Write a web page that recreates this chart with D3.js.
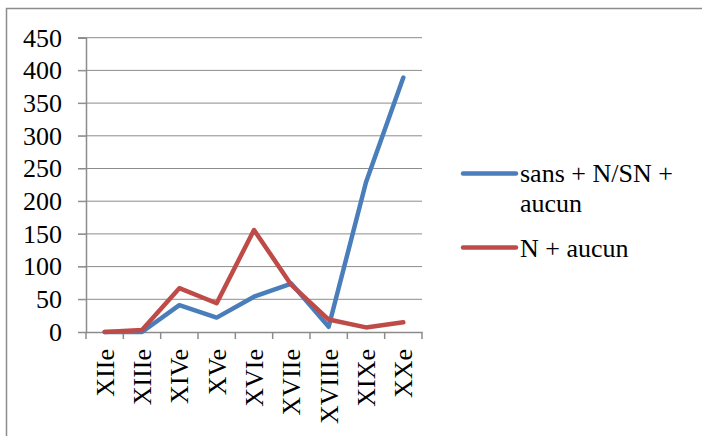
<!DOCTYPE html>
<html><head><meta charset="utf-8">
<script src="https://cdn.jsdelivr.net/npm/d3@7"></script>
<style>body{margin:0;background:#fff}svg{display:block}</style>
</head><body>
<svg id="c" width="702" height="436"></svg>
<script>
const categories = ["XIIe","XIIIe","XIVe","XVe","XVIe","XVIIe","XVIIIe","XIXe","XXe"];
const seriesNames = ["sans + N/SN + aucun", "N + aucun"];
const sansValues = [0, 0, 41, 22, 54, 74, 8, 229, 389];
const nValues = [0, 3, 67, 44, 156, 72, 19, 7, 15];
const yTicks = [0, 50, 100, 150, 200, 250, 300, 350, 400, 450];
const colors = ["#4A7EBB", "#BE4B48"];

const svg = d3.select("#c");
const FF = '"Liberation Serif"';
const L = 86, R = 422, T = 37.7, B = 332;

svg.append("rect").attr("x", 6.5).attr("y", 8.5).attr("width", 900).attr("height", 900)
  .attr("fill", "none").attr("stroke", "#8c8c8c").attr("stroke-width", 1.5);

const x = d3.scaleBand().domain(categories).range([L, R]);
const y = d3.scaleLinear().domain([0, 450]).range([B, T]);

// grid
svg.append("g").selectAll("line").data(yTicks.filter(d => d > 0)).join("line")
  .attr("x1", L - 8).attr("x2", R).attr("y1", d => y(d)).attr("y2", d => y(d))
  .attr("stroke", "#8c8c8c").attr("stroke-width", 1);

// y axis
const ya = svg.append("g").attr("transform", `translate(${L},0)`)
  .call(d3.axisLeft(y).tickValues(yTicks).tickSize(8).tickPadding(16));
ya.attr("font-family", null).attr("font-size", null);
ya.select(".domain").attr("stroke", "#8c8c8c").attr("stroke-width", 1.5);
ya.selectAll(".tick line").attr("stroke", "#8c8c8c");
ya.selectAll("text").style("font-family", FF).style("font-size", "26px").attr("fill", "#000");

// x axis
const xa = svg.append("g").attr("transform", `translate(0,${B})`)
  .call(d3.axisBottom(x).tickSize(0));
xa.attr("font-family", null).attr("font-size", null);
xa.select(".domain").attr("stroke", "#8c8c8c").attr("stroke-width", 1.5);
xa.selectAll(".tick line").remove();
const edges = categories.map(c => x(c)).concat([R]);
xa.append("g").selectAll("line").data(edges).join("line")
  .attr("x1", d => d).attr("x2", d => d).attr("y1", 0).attr("y2", 7)
  .attr("stroke", "#8c8c8c").attr("stroke-width", 1.5);
xa.selectAll(".tick text")
  .style("font-family", FF).style("font-size", "26px").attr("fill", "#000")
  .attr("transform", "rotate(-90)")
  .attr("text-anchor", "end").attr("x", -17).attr("y", 0).attr("dy", "0.35em");

const line = d3.line().x((d, i) => x(categories[i]) + x.bandwidth() / 2).y(d => y(d));
[sansValues, nValues].forEach((vals, k) => {
  svg.append("path").datum(vals).attr("d", line)
    .attr("fill", "none").attr("stroke", colors[k]).attr("stroke-width", 4.5)
    .attr("stroke-linejoin", "round").attr("stroke-linecap", "round");
});

// legend
const lg = svg.append("g");
lg.append("line").attr("x1", 463).attr("x2", 516).attr("y1", 173.5).attr("y2", 173.5)
  .attr("stroke", colors[0]).attr("stroke-width", 4.5).attr("stroke-linecap", "round");
const t1 = lg.append("text").attr("x", 520).attr("y", 182).style("font-family", FF).style("font-size", "26px");
t1.append("tspan").attr("x", 520).text("sans + N/SN +");
t1.append("tspan").attr("x", 520).attr("dy", 30).text("aucun");
lg.append("line").attr("x1", 463).attr("x2", 516).attr("y1", 247.5).attr("y2", 247.5)
  .attr("stroke", colors[1]).attr("stroke-width", 4.5).attr("stroke-linecap", "round");
lg.append("text").attr("x", 520).attr("y", 257).style("font-family", FF).style("font-size", "26px").text(seriesNames[1]);
</script>
</body></html>
